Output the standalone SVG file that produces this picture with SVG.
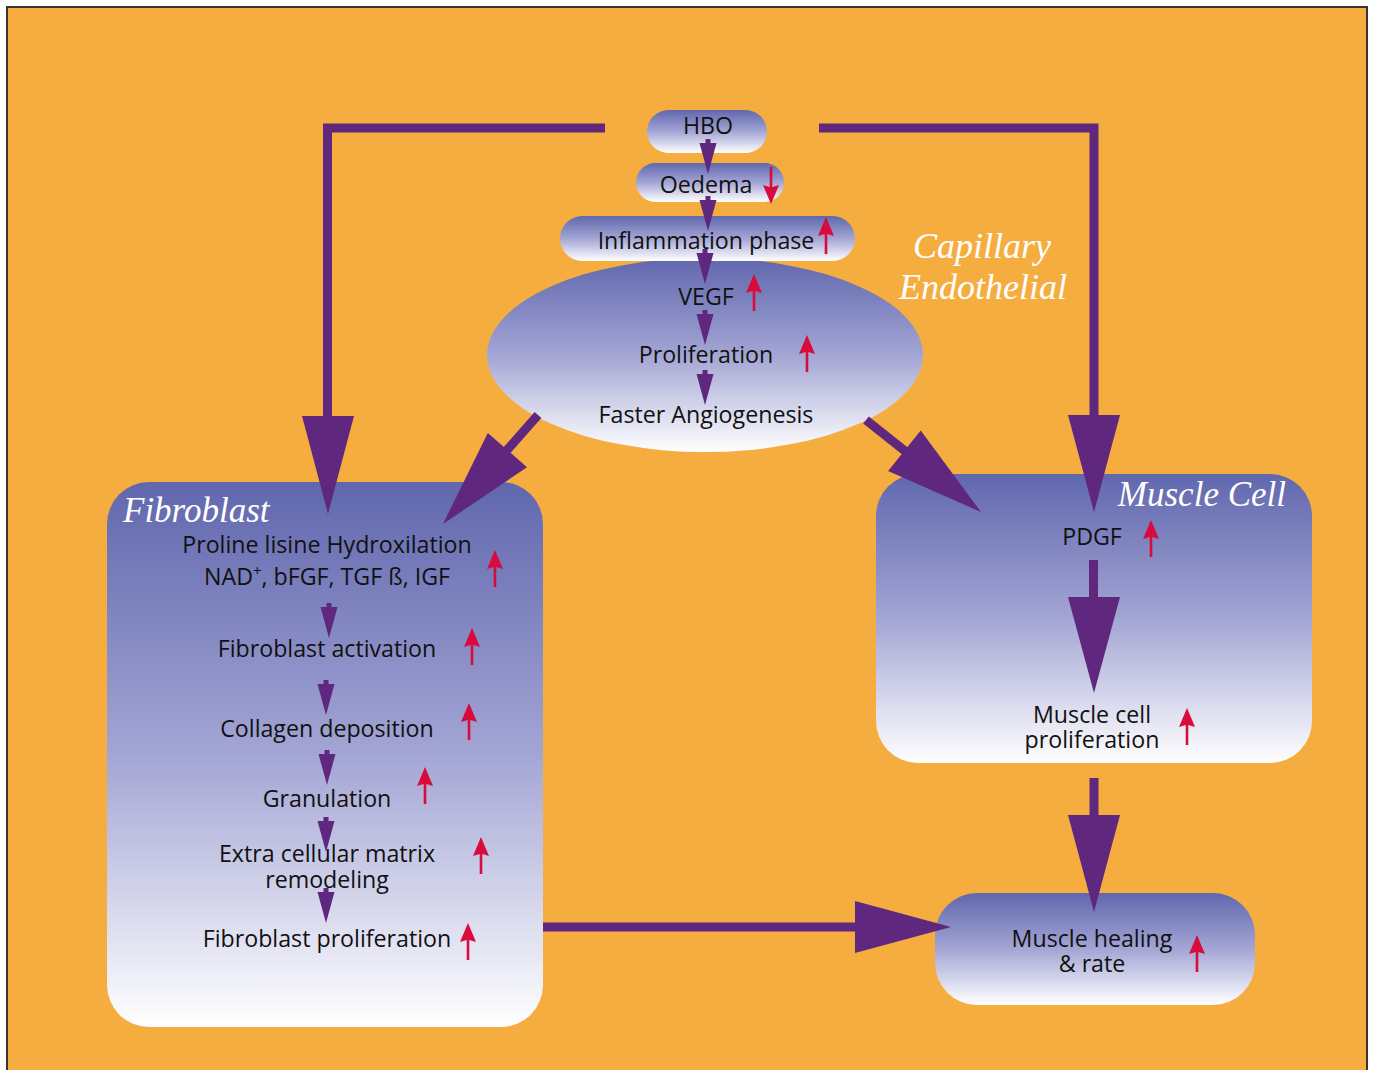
<svg xmlns="http://www.w3.org/2000/svg" xmlns:xlink="http://www.w3.org/1999/xlink" width="1373" height="1070" viewBox="0 0 1373 1070">
<style>
.t{font-family:"Open Sans","Noto Sans","Liberation Sans",sans-serif;font-size:23.2px;fill:#111;text-anchor:middle}
.s{font-family:"Liberation Serif","DejaVu Serif",serif;font-style:italic;fill:#fff}
.node{fill:url(#g)}
.pl{stroke:#5f277e;stroke-width:9;fill:none}
.ph{fill:#5f277e}
</style>
<defs>
<linearGradient id="g" x1="0" y1="0" x2="0" y2="1">
<stop offset="0" stop-color="#6067ad"/>
<stop offset="0.5" stop-color="#a3a5d4"/>
<stop offset="1" stop-color="#ffffff"/>
</linearGradient>
<path id="sa" d="M-2.5,0H2.5V4H8.5L0,35L-8.5,4H-2.5Z" fill="#5f277e"/>
<path id="ra" d="M0,0L8,19L1.3,17V37H-1.3V17L-8,19Z" fill="#d80b3c"/>
</defs>
<rect x="0" y="0" width="1373" height="1070" fill="#fff"/>
<rect x="7" y="7" width="1360" height="1080" fill="#f6ad40" stroke="#3a3330" stroke-width="2"/>

<g id="capillary-label">
<text class="s" x="982" y="258" font-size="36" text-anchor="middle">Capillary</text>
<text class="s" x="983" y="299" font-size="36" text-anchor="middle">Endothelial</text>
</g>

<g id="capillary">
<ellipse class="node" cx="705" cy="355" rx="218" ry="97"/>
<text class="t" x="706" y="305">VEGF</text>
<text class="t" x="706" y="363">Proliferation</text>
<text class="t" x="706" y="423">Faster Angiogenesis</text>
</g>

<g id="hbo">
<rect class="node" x="647" y="110" width="120" height="43" rx="21.5"/>
<text class="t" x="708" y="134">HBO</text>
</g>
<g id="oedema">
<rect class="node" x="636" y="163" width="148" height="39" rx="19.5"/>
<text class="t" x="706" y="193">Oedema</text>
</g>
<g id="inflammation">
<rect class="node" x="560" y="216" width="295" height="45" rx="22.5"/>
<text class="t" x="706" y="249">Inflammation phase</text>
</g>

<g id="fibroblast">
<rect class="node" x="107" y="482" width="436" height="545" rx="42"/>
<text class="s" x="123" y="522" font-size="35">Fibroblast</text>
<text class="t" x="327" y="553">Proline lisine Hydroxilation</text>
<text class="t" x="327" y="585">NAD<tspan font-size="15" dy="-9">+</tspan><tspan dy="9">, bFGF, TGF ß, IGF</tspan></text>
<text class="t" x="327" y="657">Fibroblast activation</text>
<text class="t" x="327" y="737">Collagen deposition</text>
<text class="t" x="327" y="807">Granulation</text>
<text class="t" x="327" y="862">Extra cellular matrix</text>
<text class="t" x="327" y="888">remodeling</text>
<text class="t" x="327" y="947">Fibroblast proliferation</text>
</g>

<g id="muscle-cell">
<rect class="node" x="876" y="474" width="436" height="289" rx="42"/>
<text class="s" x="1286" y="506" font-size="35" text-anchor="end">Muscle Cell</text>
<text class="t" x="1092" y="545">PDGF</text>
<text class="t" x="1092" y="723">Muscle cell</text>
<text class="t" x="1092" y="748">proliferation</text>
</g>

<g id="muscle-healing">
<rect class="node" x="935" y="893" width="320" height="112" rx="42"/>
<text class="t" x="1092" y="947">Muscle healing</text>
<text class="t" x="1092" y="972">&amp; rate</text>
</g>

<g id="connectors">
<path class="pl" d="M605,128H327.5V417"/>
<path class="ph" d="M302,416H354L328,514Z"/>
<path class="pl" d="M819,128H1094V417"/>
<path class="ph" d="M1068,415H1120L1094,512Z"/>
<path class="pl" d="M538,415L500,458"/>
<path class="ph" d="M487.8,433L527,467.2L443,524Z"/>
<path class="pl" d="M866,420L910,455"/>
<path class="ph" d="M888.1,471L920.7,430.4L981,512Z"/>
<path class="pl" d="M1093.5,560V600"/>
<path class="ph" d="M1068,597H1120L1094,693Z"/>
<path class="pl" d="M1094,778V818"/>
<path class="ph" d="M1068,815H1120L1094,912Z"/>
<path class="pl" d="M543,927H858"/>
<path class="ph" d="M855,901V953L951,927Z"/>
<use href="#sa" x="708" y="139"/>
<use href="#sa" x="708" y="196"/>
<use href="#sa" x="705" y="249"/>
<use href="#sa" x="705" y="310"/>
<use href="#sa" x="705" y="370"/>
<use href="#sa" x="329" y="603"/>
<use href="#sa" x="326" y="680"/>
<use href="#sa" x="327" y="750"/>
<use href="#sa" x="326" y="817"/>
<use href="#sa" x="326" y="888"/>
</g>

<g id="indicators">
<use href="#ra" transform="translate(771,204) rotate(180)"/>
<use href="#ra" x="826" y="217"/>
<use href="#ra" x="754" y="274"/>
<use href="#ra" x="807" y="335"/>
<use href="#ra" x="495" y="550"/>
<use href="#ra" x="472" y="628"/>
<use href="#ra" x="469" y="703"/>
<use href="#ra" x="425" y="767"/>
<use href="#ra" x="481" y="837"/>
<use href="#ra" x="468" y="923"/>
<use href="#ra" x="1151" y="520"/>
<use href="#ra" x="1187" y="708"/>
<use href="#ra" x="1197" y="935"/>
</g>
</svg>
